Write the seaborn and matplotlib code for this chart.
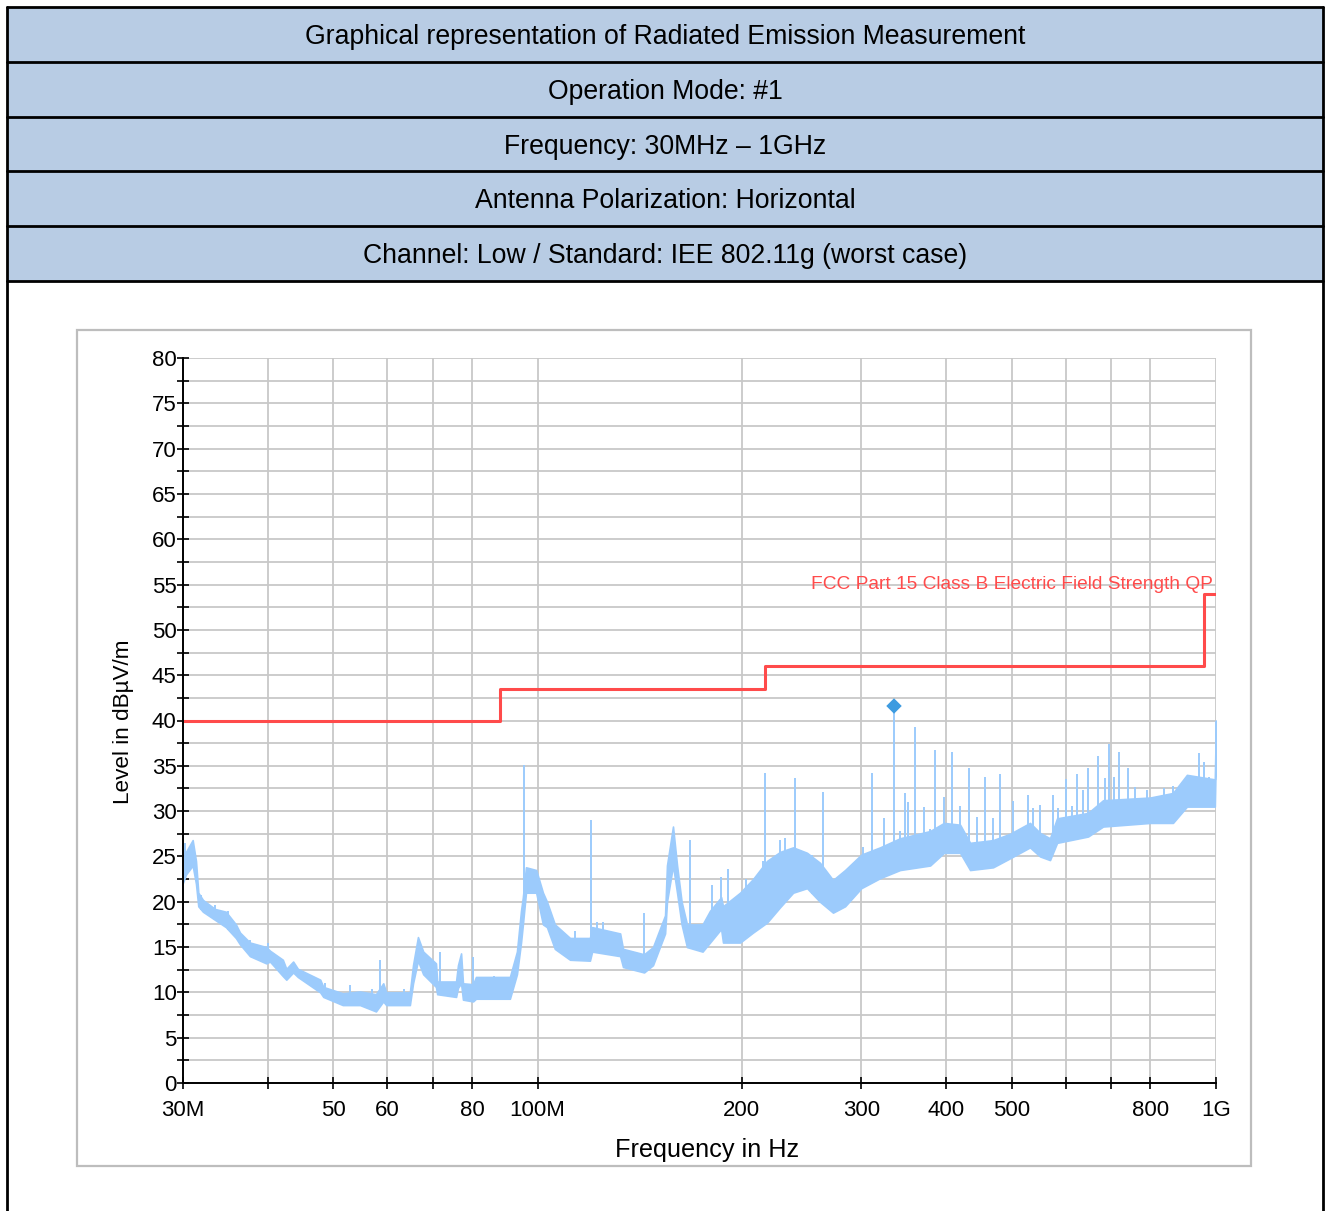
import numpy as np
import pandas as pd
import matplotlib
matplotlib.use("Agg")
import matplotlib.pyplot as plt
from matplotlib.patches import Rectangle
from matplotlib.lines import Line2D
from matplotlib.ticker import FixedLocator, FixedFormatter, MultipleLocator, NullLocator
import seaborn as sns

# ---------------- data ----------------
header_rows = [
    "Graphical representation of Radiated Emission Measurement",
    "Operation Mode: #1",
    "Frequency: 30MHz \u2013 1GHz",
    "Antenna Polarization: Horizontal",
    "Channel: Low / Standard: IEE 802.11g (worst case)",
]

# limit line (MHz, dBuV/m), stepped
limit_f = [30, 88, 216, 960, 1000]
limit_v = [40, 43.5, 46, 54, 54]
limit_name = "FCC Part 15 Class B Electric Field Strength QP"

# noise band of the measured trace: frequency (MHz), lower and upper level
band_f = [30.0, 30.3, 31.0, 31.35, 31.6, 32.1, 33.45, 34.7, 35.9, 36.4, 37.65, 39.8,
          40.3, 42.1, 42.6, 43.6, 44.3, 47.8, 48.3, 51.6, 54.7, 57.75, 59.2, 59.8,
          64.8, 65.5, 66.6, 67.8, 70.8, 71.1, 75.8, 76.3, 77.1, 77.6, 80.3, 81.1,
          91.0, 93.2, 94.5, 95.1, 96.1, 99.5, 101.8, 103.2, 106.0, 111.6, 119.4,
          120.3, 132.3, 133.6, 143.5, 147.9, 154.1, 155.1, 158.3, 160.5, 163.0,
          166.0, 175.0, 179.5, 186.4, 187.6, 198.8, 207.7, 217.8, 227.7, 238.0,
          249.5, 260.7, 272.5, 283.9, 300.0, 319.7, 342.1, 378.9, 397.2, 419.5,
          434.0, 469.2, 497.1, 531.8, 550.3, 569.2, 583.0, 647.8, 681.6, 800.0,
          864.0, 906.0, 996.0, 1000.0]
band_lo = [22.1, 23.0, 24.0, 22.0, 19.5, 18.9, 18.0, 17.2, 16.0, 15.3, 14.0, 13.2,
           13.4, 11.8, 11.4, 12.2, 11.7, 10.0, 9.5, 8.6, 8.6, 7.9, 9.0, 8.6,
           8.6, 11.0, 13.5, 12.0, 10.6, 9.8, 9.5, 10.5, 11.0, 9.2, 9.0, 9.3,
           9.3, 12.0, 15.5, 17.5, 21.0, 21.0, 17.5, 17.2, 14.8, 13.6, 13.5,
           14.5, 14.0, 12.8, 12.2, 13.0, 16.5, 20.0, 24.0, 21.0, 17.5,
           15.0, 14.5, 15.5, 17.0, 15.5, 15.5, 16.6, 17.7, 19.4, 21.0,
           21.5, 20.0, 18.8, 19.5, 21.5, 22.6, 23.5, 24.0, 25.4, 25.4,
           23.5, 23.8, 24.8, 26.0, 25.0, 24.6, 26.5, 27.2, 28.3, 28.7,
           28.7, 30.5, 30.5, 37.0]
band_hi = [24.6, 25.5, 26.8, 24.5, 21.0, 20.2, 19.2, 18.9, 17.5, 16.6, 15.5, 15.0,
           14.6, 13.6, 12.6, 13.4, 12.6, 11.4, 10.6, 9.9, 10.1, 9.8, 11.0, 10.0,
           10.0, 13.0, 16.1, 14.5, 13.2, 11.2, 11.2, 13.0, 14.3, 11.0, 10.9, 11.7,
           11.7, 14.5, 19.0, 20.5, 23.8, 23.5, 21.0, 20.0, 17.5, 16.0, 16.0,
           17.2, 16.5, 14.8, 14.2, 15.0, 18.5, 24.0, 28.3, 24.0, 20.0,
           17.5, 17.5, 19.0, 20.5, 19.5, 21.0, 22.5, 24.5, 25.5, 26.0,
           25.4, 24.3, 22.4, 23.5, 25.2, 26.0, 27.0, 27.8, 28.7, 28.5,
           26.5, 26.8, 27.5, 28.7, 27.6, 27.0, 29.2, 29.8, 31.2, 31.5,
           32.0, 34.0, 33.5, 40.0]

# narrow-band spikes: frequency (MHz) and peak level
spike_f = [30.2, 31.9, 33.45, 35.0, 35.9, 37.65, 40.0, 48.5, 52.9, 56.9, 58.6,
           63.6, 71.8, 73.9, 80.3, 84.0, 86.2, 95.5, 104.5, 108.0, 113.5, 119.9,
           122.5, 125.0, 128.0, 143.5, 167.7, 180.5, 186.4, 190.8, 202.7, 215.0,
           216.3, 228.0, 231.6, 239.6, 254.0, 263.4, 301.7, 311.1, 324.0, 335.2,
           342.1, 348.0, 352.0, 360.0, 371.2, 378.9, 385.3, 397.2, 408.2, 419.5,
           432.5, 444.4, 456.6, 469.2, 480.5, 502.2, 528.3, 537.0, 550.3, 575.0,
           585.0, 601.3, 613.0, 624.0, 636.0, 647.8, 670.2, 685.0, 695.7, 708.0,
           719.6, 741.9, 760.0, 791.4, 838.5, 864.4, 944.2, 960.0, 978.0, 1000.0]
spike_v = [26.5, 20.8, 19.6, 19.0, 17.5, 15.8, 15.5, 11.0, 10.8, 10.4, 13.6,
           10.4, 14.5, 11.0, 13.9, 11.2, 11.8, 35.1, 17.8, 17.0, 16.8, 29.0,
           17.8, 17.8, 16.5, 18.8, 26.8, 21.8, 22.7, 23.6, 22.5, 24.5,
           34.2, 26.8, 27.0, 33.7, 25.2, 32.1, 26.0, 34.2, 29.2, 41.6,
           27.8, 32.0, 31.0, 39.3, 30.5, 28.0, 36.8, 31.6, 36.5, 30.6,
           34.8, 29.4, 33.8, 29.2, 34.1, 31.1, 31.8, 30.3, 30.7, 31.8,
           30.3, 33.5, 30.6, 34.1, 32.3, 34.8, 36.1, 33.7, 37.4, 33.8,
           36.5, 34.8, 32.7, 32.3, 32.6, 32.8, 36.4, 35.4, 33.8, 40.0]

# final (quasi-peak) measurement point
final_f = [335.2]
final_v = [41.6]

x_ticks = [30, 40, 50, 60, 70, 80, 100, 200, 300, 400, 500, 600, 700, 800, 1000]
x_labels = ["30M", "", "50", "60", "", "80", "100M", "200", "300", "400", "500",
            "", "", "800", "1G"]
y_ticks = list(range(0, 81, 5))

# ---------------- style ----------------
sns.set_style("white")
plt.rcParams["font.family"] = ["Liberation Sans", "DejaVu Sans"]

W, H = 1327, 1211
fig = plt.figure(figsize=(W / 100, H / 100), dpi=100)


def fx(px):
    return px / W


def fy(py):
    return 1 - py / H


# header table
hdr_fill = "#B8CCE4"
bounds = [7, 62, 117, 171, 226, 281]
for i, txt in enumerate(header_rows):
    top, bot = bounds[i], bounds[i + 1]
    fig.patches.append(Rectangle((fx(7), fy(bot)), fx(1323) - fx(7), fy(top) - fy(bot),
                                 transform=fig.transFigure, facecolor=hdr_fill,
                                 edgecolor="none", zorder=0))
    fig.text(fx(665), fy((top + bot) / 2 + 2.5), txt, ha="center", va="center",
             fontsize=19.2, color="black")
for b in bounds:
    fig.lines.append(Line2D([fx(7), fx(1323)], [fy(b), fy(b)], transform=fig.transFigure,
                            color="black", lw=2.0))
for xb in (7, 1323):
    fig.lines.append(Line2D([fx(xb), fx(xb)], [fy(7), fy(1211)], transform=fig.transFigure,
                            color="black", lw=2.0))

# chart frame
fig.patches.append(Rectangle((fx(77), fy(1166)), fx(1251) - fx(77), fy(330) - fy(1166),
                             transform=fig.transFigure, facecolor="white",
                             edgecolor="#BDBDBD", lw=1.6, zorder=0.5))

ax = fig.add_axes([fx(183), fy(1083), fx(1216) - fx(183), fy(358) - fy(1083)])
ax.set_facecolor("white")
ax.set_zorder(2)

trace_c = "#9CCBFC"
bf = np.array(band_f) * 1e6
ax.fill_between(bf, band_lo, band_hi, color=trace_c, lw=1.2, edgecolor=trace_c, zorder=3)
sf = np.array(spike_f) * 1e6
base = np.interp(np.log10(sf), np.log10(bf), band_lo)
ax.vlines(sf, base, spike_v, color=trace_c, lw=1.4, zorder=3)

lim_df = pd.DataFrame({"f": np.array(limit_f) * 1e6, "v": limit_v})
sns.lineplot(data=lim_df, x="f", y="v", ax=ax, color="#FF4B4B", lw=2.2,
             drawstyle="steps-post", sort=False, estimator=None, zorder=4)

fin_df = pd.DataFrame({"f": np.array(final_f) * 1e6, "v": final_v})
sns.scatterplot(data=fin_df, x="f", y="v", ax=ax, marker="D", s=62,
                color="#3D9BE0", edgecolor="none", zorder=5)

ax.text(990e6, 55.0, limit_name, ha="right", va="center", color="#FF4B4B",
        fontsize=13.8, zorder=6)

ax.set_xscale("log")
ax.set_xlim(30e6, 1000e6)
ax.set_ylim(0, 80)
ax.xaxis.set_major_locator(FixedLocator([t * 1e6 for t in x_ticks]))
ax.xaxis.set_major_formatter(FixedFormatter(x_labels))
ax.xaxis.set_minor_locator(NullLocator())
ax.yaxis.set_major_locator(FixedLocator(y_ticks))
ax.yaxis.set_minor_locator(MultipleLocator(2.5))

ax.grid(True, which="both", color="#C8C8C8", lw=1.3, zorder=1)
ax.set_axisbelow(True)
for s in ("top", "right"):
    ax.spines[s].set_visible(False)
for s in ("left", "bottom"):
    ax.spines[s].set_color("black")
    ax.spines[s].set_linewidth(1.4)
    ax.spines[s].set_zorder(6)

ax.tick_params(axis="both", which="both", direction="inout", length=8, width=1.2,
               color="black", labelsize=16, labelcolor="black")
ax.tick_params(axis="y", which="both", pad=0.5, left=True)
ax.tick_params(axis="x", which="both", pad=8.5, bottom=True)
ax.set_xlabel("")
ax.set_ylabel("")

fig.text(fx(124), fy(722), "Level in dB\u00b5V/m", rotation=90, ha="center", va="center",
         fontsize=16.2, color="black")
fig.text(fx(707), fy(1150), "Frequency in Hz", ha="center", va="center",
         fontsize=18.2, color="black")

fig.savefig("out.png", dpi=100)
